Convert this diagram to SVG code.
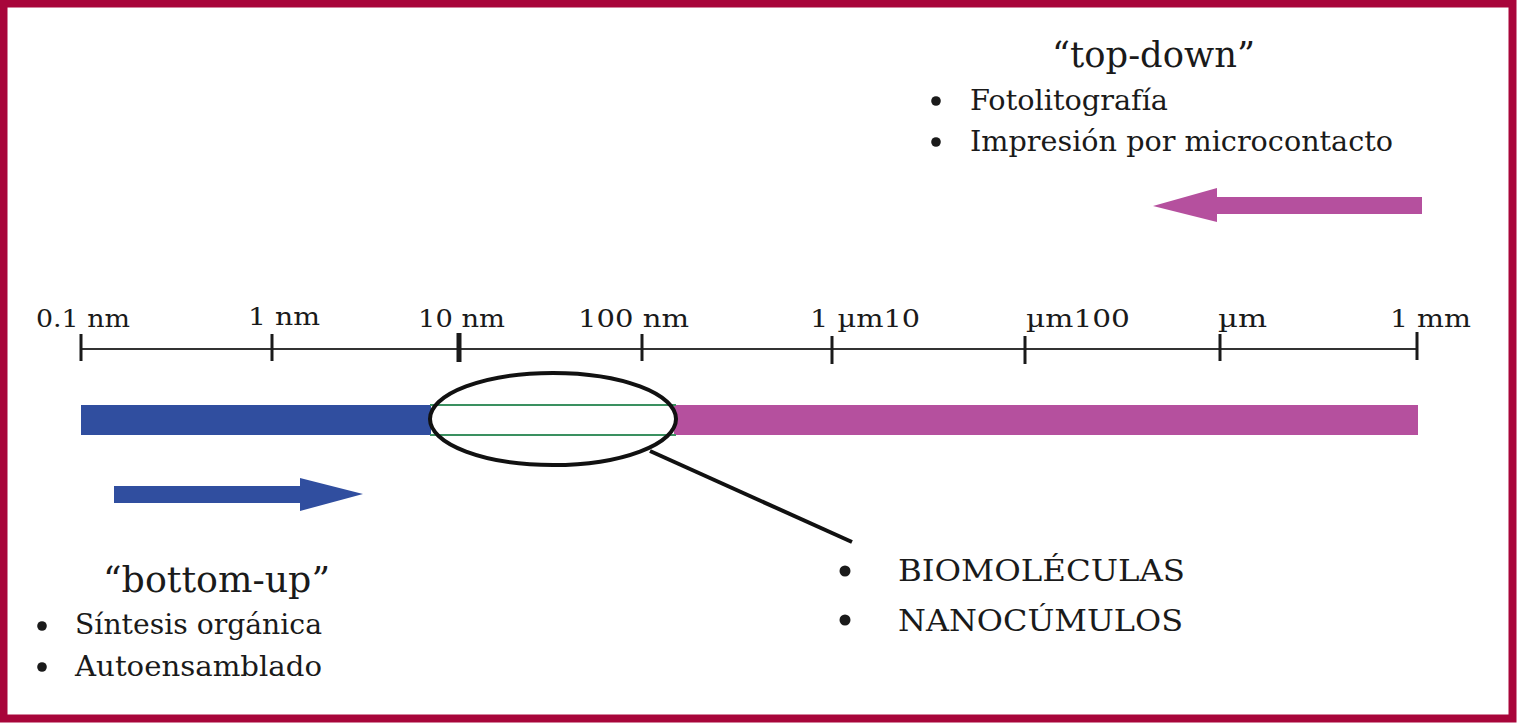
<svg xmlns="http://www.w3.org/2000/svg" width="1517" height="723" viewBox="0 0 1517 723">
<style>
.t{font-family:"DejaVu Serif","Liberation Serif",serif;fill:#1a1a1a}
.lab{font-size:24px}
.item{font-size:27px}
.head{font-size:35px}
.caps{font-size:29px}
.tick{stroke:#1a1a1a;stroke-width:3}
.dot{fill:#1a1a1a}
</style>
<rect x="0" y="0" width="1517" height="723" fill="#ffffff"/>
<rect x="3.5" y="3.5" width="1509" height="715" fill="none" stroke="#A8053A" stroke-width="8"/>

<g id="scale">
<line x1="80" y1="349" x2="1418" y2="349" stroke="#333" stroke-width="2"/>
<line class="tick" x1="81" y1="334" x2="81" y2="361"/>
<line class="tick" x1="272" y1="334" x2="272" y2="361"/>
<line class="tick" x1="459" y1="333" x2="459" y2="362" style="stroke-width:5"/>
<line class="tick" x1="642" y1="334" x2="642" y2="361"/>
<line class="tick" x1="832" y1="336" x2="832" y2="364"/>
<line class="tick" x1="1025" y1="336" x2="1025" y2="364"/>
<line class="tick" x1="1220" y1="334" x2="1220" y2="361"/>
<line class="tick" x1="1417" y1="332" x2="1417" y2="360"/>
<text class="t lab" x="36" y="327" textLength="94" lengthAdjust="spacingAndGlyphs">0.1 nm</text>
<text class="t lab" x="248" y="325" textLength="72" lengthAdjust="spacingAndGlyphs">1 nm</text>
<text class="t lab" x="418" y="327" textLength="87" lengthAdjust="spacingAndGlyphs">10 nm</text>
<text class="t lab" x="578" y="327" textLength="111" lengthAdjust="spacingAndGlyphs">100 nm</text>
<text class="t lab" x="810" y="327" textLength="110" lengthAdjust="spacingAndGlyphs">1 µm10</text>
<text class="t lab" x="1026" y="327" textLength="104" lengthAdjust="spacingAndGlyphs">µm100</text>
<text class="t lab" x="1218" y="327" textLength="49" lengthAdjust="spacingAndGlyphs">µm</text>
<text class="t lab" x="1390" y="327" textLength="81" lengthAdjust="spacingAndGlyphs">1 mm</text>
</g>

<g id="bars">
<rect x="81" y="405" width="350" height="30" fill="#304E9F"/>
<rect x="674" y="405" width="744" height="30" fill="#B5509E"/>
<line x1="430" y1="405" x2="676" y2="405" stroke="#3A9060" stroke-width="2"/>
<line x1="430" y1="435" x2="676" y2="435" stroke="#3A9060" stroke-width="2"/>
</g>

<g id="nano">
<ellipse cx="553" cy="419" rx="123" ry="46" fill="none" stroke="#111" stroke-width="4"/>
</g>

<g id="connectors">
<line x1="650" y1="451" x2="852" y2="542" stroke="#111" stroke-width="4"/>
</g>

<g id="topdown">
<polygon points="1422,197 1217,197 1217,188 1153,206 1217,222 1217,214 1422,214" fill="#B5509E"/>
<text class="t head" x="1052" y="67" textLength="203" lengthAdjust="spacingAndGlyphs">“top-down”</text>
<circle class="dot" cx="936" cy="101" r="4.8"/>
<text class="t item" x="970" y="110" textLength="198" lengthAdjust="spacingAndGlyphs">Fotolitografía</text>
<circle class="dot" cx="936" cy="142" r="4.8"/>
<text class="t item" x="970" y="151" textLength="423" lengthAdjust="spacingAndGlyphs">Impresión por microcontacto</text>
</g>

<g id="bottomup">
<polygon points="114,486 300,486 300,478 363,494 300,511 300,503 114,503" fill="#304E9F"/>
<text class="t head" x="103" y="592" textLength="227" lengthAdjust="spacingAndGlyphs">“bottom-up”</text>
<circle class="dot" cx="42" cy="626" r="4.8"/>
<text class="t item" x="75" y="634" textLength="247" lengthAdjust="spacingAndGlyphs">Síntesis orgánica</text>
<circle class="dot" cx="42" cy="667" r="4.8"/>
<text class="t item" x="75" y="676" textLength="247" lengthAdjust="spacingAndGlyphs">Autoensamblado</text>
</g>

<g id="nanolist">
<circle class="dot" cx="845" cy="571" r="5.5"/>
<text class="t caps" x="898" y="581" textLength="287" lengthAdjust="spacingAndGlyphs">BIOMOLÉCULAS</text>
<circle class="dot" cx="845" cy="620" r="5.5"/>
<text class="t caps" x="898" y="631" textLength="285" lengthAdjust="spacingAndGlyphs">NANOCÚMULOS</text>
</g>
</svg>
